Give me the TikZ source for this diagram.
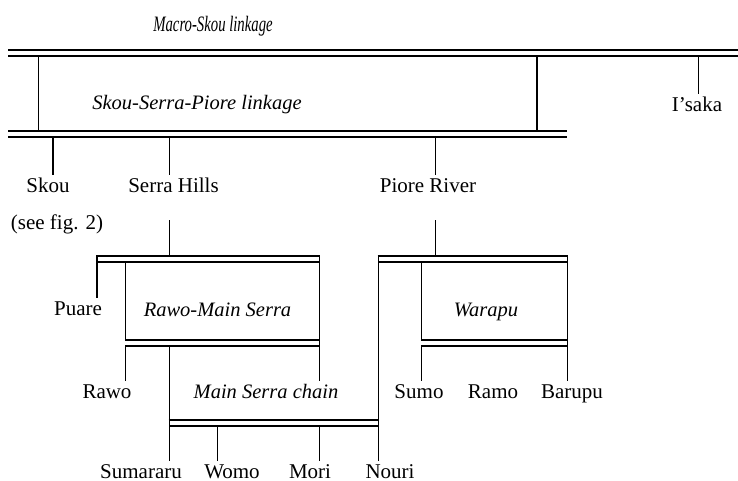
\documentclass[tikz,border=0pt]{standalone}
\usepackage{fontspec}
\setmainfont{Liberation Serif}
\usepackage{tikz}

\begin{document}
\begin{tikzpicture}[x=1pt, y=-1pt]
    % Define styles
    \tikzstyle{lang} = [font=\fontsize{21}{25}\selectfont, anchor=base, text height=14.5pt, text depth=4.5pt, inner xsep=2pt, inner ysep=2.5pt]
    \tikzstyle{group} = [font=\fontsize{20.5}{24}\selectfont\itshape, anchor=base]
    \tikzstyle{bar} = [line width=1.7pt, double, double distance=3.8pt]
    \tikzstyle{stem} = [line width=0.9pt]
    \tikzstyle{heavystem} = [line width=1.8pt]

    \useasboundingbox (0,0) rectangle (738,481);

    % Group names
    \node[group] (macro) at (213,31.5) {\fontsize{22}{26}\selectfont\scalebox{0.67}[1]{Macro-Skou linkage}};
    \node[group] (ssp) at (197,110) {Skou-Serra-Piore linkage};
    \node[group] (rms) at (217.5,316) {Rawo-Main Serra};
    \node[group] (msc) at (266,398) {Main Serra chain};
    \node[group] (warapu) at (486,316) {Warapu};

    % Languages
    \node[lang] (isaka) at (697,111.5) {I’saka};
    \node[lang] (skou) at (48,192.5) {Skou};
    \node[lang] (serra) at (173.5,192.5) {Serra Hills};
    \node[lang] (piore) at (428,192.5) {Piore River};
    \node[lang] (seefig) at (57,229) {(see fig. 2)};
    \node[lang] (puare) at (78,315) {Puare};
    \node[lang] (rawo) at (107,398) {Rawo};
    \node[lang] (sumo) at (419,398) {Sumo};
    \node[lang] (ramo) at (493,398) {Ramo};
    \node[lang] (barupu) at (572,398) {Barupu};
    \node[lang] (sumararu) at (141,478) {Sumararu};
    \node[lang] (womo) at (232,478) {Womo};
    \node[lang] (mori) at (310,478) {Mori};
    \node[lang] (nouri) at (390,478) {Nouri};

    % Bars
    \draw[bar] (8,53) -- (738,53);
    \draw[bar] (8,134) -- (567,134);
    \draw[bar] (96.1,259) -- (319.45,259);
    \draw[bar] (125,343) -- (319.45,343);
    \draw[bar] (168.55,423) -- (378.45,423);
    \draw[bar] (377.55,259) -- (567.45,259);
    \draw[bar] (421,343) -- (567.45,343);

    % Stems
    \draw[stem] (38,56.6) -- (38,130.4);
    \draw[heavystem] (537,56.6) -- (537,130.4);
    \draw[stem] (698,56.6) -- (698,0 |- isaka.north);
    \draw[heavystem] (53,137.6) -- (53,0 |- skou.north);
    \draw[stem] (169,137.6) -- (169,0 |- serra.north);
    \draw[stem] (435,137.6) -- (435,0 |- piore.north);
    \draw[stem] (169,220) -- (169,255.4);
    \draw[stem] (435,220) -- (435,255.4);
    \draw[heavystem] (97,255.4) -- (97,0 |- puare.north);
    \draw[stem] (125,262.6) -- (125,339.4);
    \draw[stem] (125,346.6) -- (125,0 |- rawo.north);
    \draw[stem] (319,255.4) -- (319,0 |- rawo.north);
    \draw[stem] (169,346.6) -- (169,0 |- sumararu.north);
    \draw[stem] (217,426.6) -- (217,0 |- womo.north);
    \draw[stem] (319,426.6) -- (319,0 |- mori.north);
    \draw[stem] (378,255.4) -- (378,0 |- nouri.north);
    \draw[stem] (421,262.6) -- (421,339.4);
    \draw[stem] (421,346.6) -- (421,0 |- sumo.north);
    \draw[stem] (567,255.4) -- (567,0 |- barupu.north);
\end{tikzpicture}
\end{document}
